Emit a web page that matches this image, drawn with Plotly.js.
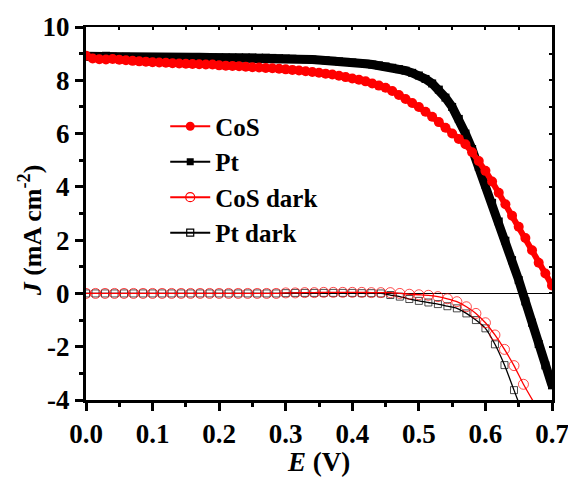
<!DOCTYPE html>
<html>
<head>
<meta charset="utf-8">
<script src="https://cdn.plot.ly/plotly-3.0.1.min.js"></script>
<style>html,body{margin:0;padding:0;background:#fff;}#chart{width:568px;height:477px;}</style>
</head>
<body>
<div id="chart"></div>
<script>
// Illuminated J-V sweep (V)
var E_light = [0.00,0.01,0.02,0.03,0.04,0.05,0.06,0.07,0.08,0.09,
  0.10,0.11,0.12,0.13,0.14,0.15,0.16,0.17,0.18,0.19,
  0.20,0.21,0.22,0.23,0.24,0.25,0.26,0.27,0.28,0.29,
  0.30,0.31,0.32,0.33,0.34,0.35,0.36,0.37,0.38,0.39,
  0.40,0.41,0.42,0.43,0.44,0.45,0.46,0.47,0.48,0.49,
  0.50,0.51,0.52,0.53,0.54,0.55,0.56,0.57,0.58,0.59,
  0.60,0.61,0.62,0.63,0.64,0.65,0.66,0.67,0.68,0.69,0.70];
// CoS (mA cm-2)
var J_CoS = [8.92,8.82,8.79,8.78,8.80,8.77,8.75,8.73,8.71,8.70,
  8.68,8.67,8.66,8.64,8.63,8.62,8.61,8.60,8.59,8.59,
  8.56,8.55,8.54,8.53,8.51,8.49,8.48,8.46,8.45,8.43,
  8.41,8.39,8.37,8.34,8.31,8.28,8.25,8.22,8.17,8.12,
  8.07,8.02,7.96,7.88,7.80,7.72,7.60,7.45,7.30,7.15,
  7.00,6.82,6.63,6.43,6.22,6.00,5.80,5.60,5.30,4.97,
  4.60,4.20,3.78,3.35,2.92,2.50,2.08,1.62,1.15,0.75,0.30];
// Pt (mA cm-2)
var J_Pt = [8.90,8.88,8.90,8.92,8.89,8.88,8.88,8.87,8.87,8.87,
  8.87,8.86,8.86,8.86,8.86,8.86,8.86,8.86,8.86,8.86,
  8.86,8.86,8.86,8.86,8.86,8.86,8.85,8.85,8.84,8.83,
  8.82,8.81,8.80,8.79,8.78,8.76,8.75,8.73,8.71,8.69,
  8.67,8.65,8.62,8.59,8.56,8.52,8.47,8.42,8.36,8.28,
  8.18,8.05,7.88,7.65,7.35,7.00,6.55,6.00,5.42,4.75,
  4.08,3.40,2.70,1.98,1.25,0.50,-0.30,-1.10,-1.90,-2.70,-3.45];
// Dark sweep (V)
var E_dark = [0.0000,0.0143,0.0286,0.0429,0.0571,0.0714,0.0857,0.1000,0.1143,0.1286,
  0.1429,0.1571,0.1714,0.1857,0.2000,0.2143,0.2286,0.2429,0.2571,0.2714,
  0.2857,0.3000,0.3143,0.3286,0.3429,0.3571,0.3714,0.3857,0.4000,0.4143,
  0.4286,0.4429,0.4571,0.4714,0.4857,0.5000,0.5143,0.5286,0.5429,0.5571,
  0.5714,0.5857,0.6000,0.6143,0.6286,0.6429,0.6571];
var J_CoS_dark = [0,0,0,0,0,0,0,0,0,0,
  0,0,0,0,0,0,0,0,0,0,
  0,0.02,0.02,0.03,0.03,0.04,0.04,0.04,0.04,0.04,
  0.03,0.03,0.03,0.00,-0.03,-0.05,-0.07,-0.12,-0.20,-0.31,
  -0.50,-0.75,-1.10,-1.56,-2.10,-2.71,-3.41];
var J_Pt_dark = [0,0,0,0,0,0,0,0,0,0,
  0,0,0,0,0,0,0,0,0,0,
  0,0.01,0.02,0.02,0.02,0.02,0.02,0.02,0.02,0.01,
  0.01,0.00,-0.06,-0.12,-0.21,-0.28,-0.34,-0.40,-0.48,-0.56,
  -0.75,-1.00,-1.31,-1.91,-2.69,-3.63];
// where the fitted dark lines leave the bottom of the frame
var E_CoS_dark_end = 0.673, J_CoS_dark_end = -4.1;
var E_Pt_dark_end = 0.650, J_Pt_dark_end = -4.1;

var seriesNames = ['CoS','Pt','CoS dark','Pt dark'];
var xTickVals = [0,0.1,0.2,0.3,0.4,0.5,0.6,0.7];
var xTickText = ['0.0','0.1','0.2','0.3','0.4','0.5','0.6','0.7'];
var yTickVals = [-4,-2,0,2,4,6,8,10];
var yTickText = ['-4','-2','0','2','4','6','8','10'];

var FONT = 'Liberation Serif, Times New Roman, serif';
var RED = '#ff0000', BLK = '#000000';

function sizes(n, s){ var a=[]; for(var i=0;i<n;i++) a.push(s); a.push(0); return a; }

var traces = [
  // dark curves
  {x: E_dark.slice(0,J_Pt_dark.length).concat([E_Pt_dark_end]), y: J_Pt_dark.concat([J_Pt_dark_end]),
   mode:'lines+markers', line:{color:BLK,width:1.3,shape:'spline',smoothing:0.6},
   marker:{symbol:'square-open',size:sizes(J_Pt_dark.length,7),color:BLK,line:{width:1,color:BLK}},
   showlegend:false},
  {x: E_dark.concat([E_CoS_dark_end]), y: J_CoS_dark.concat([J_CoS_dark_end]),
   mode:'lines+markers', line:{color:RED,width:1.3,shape:'spline',smoothing:0.6},
   marker:{symbol:'circle-open',size:sizes(J_CoS_dark.length,10),color:RED,line:{width:1,color:RED}},
   showlegend:false},
  // illuminated curves
  {x:E_light, y:J_Pt, mode:'lines+markers', line:{color:BLK,width:9},
   marker:{symbol:'square',size:8,color:BLK}, showlegend:false},
  {x:E_light, y:J_CoS, mode:'lines+markers', line:{color:RED,width:6},
   marker:{symbol:'circle',size:10,color:RED}, showlegend:false},
  // legend entries
  {x:[null], y:[null], name:seriesNames[0], mode:'lines+markers', line:{color:RED,width:2},
   marker:{symbol:'circle',size:9,color:RED}},
  {x:[null], y:[null], name:seriesNames[1], mode:'lines+markers', line:{color:BLK,width:2},
   marker:{symbol:'square',size:7,color:BLK}},
  {x:[null], y:[null], name:seriesNames[2], mode:'lines+markers', line:{color:RED,width:2},
   marker:{symbol:'circle-open',size:9,color:RED,line:{width:1.2,color:RED}}},
  {x:[null], y:[null], name:seriesNames[3], mode:'lines+markers', line:{color:BLK,width:2},
   marker:{symbol:'square-open',size:7,color:BLK,line:{width:1.2,color:BLK}}},
  // frame axes (top/right)
  {x:[null], y:[null], xaxis:'x2', yaxis:'y2', showlegend:false, hoverinfo:'skip'}
];

var tickFont = {family:FONT, size:27, color:BLK, weight:'bold'};

var layout = {
  width:568, height:477,
  margin:{l:86, r:16, t:27, b:77, pad:0},
  paper_bgcolor:'#ffffff', plot_bgcolor:'#ffffff',
  font:{family:FONT, color:BLK},
  showlegend:true,
  legend:{x:0.17, y:0.795, xanchor:'left', yanchor:'top', bgcolor:'rgba(0,0,0,0)',
    font:{family:FONT, size:25, color:BLK, weight:'bold'}, tracegroupgap:0, itemwidth:40},
  xaxis:{range:[0,0.7], tickvals:xTickVals, ticktext:xTickText, ticks:'outside', ticklen:8, tickwidth:3,
    tickcolor:BLK, showline:true, linewidth:3, linecolor:BLK, showgrid:false, zeroline:false,
    tickfont:tickFont, ticklabeloverflow:'allow',
    minor:{dtick:0.05, tick0:0, ticks:'outside', ticklen:4, tickwidth:3, tickcolor:BLK, showgrid:false},
    title:{text:'<i>E</i> (V)', font:{family:FONT, size:27, color:BLK, weight:'bold'}, standoff:6}},
  yaxis:{range:[-4,10], tickvals:yTickVals, ticktext:yTickText, ticks:'outside', ticklen:8, tickwidth:3,
    tickcolor:BLK, showline:true, linewidth:3, linecolor:BLK, showgrid:false,
    zeroline:true, zerolinecolor:BLK, zerolinewidth:1.5,
    tickfont:tickFont, ticklabeloverflow:'allow'},
  xaxis2:{overlaying:'x', side:'top', range:[0,0.7], dtick:0.05, tick0:0, ticks:'inside', ticklen:3, tickwidth:2,
    tickcolor:BLK, showticklabels:false, showline:true, linewidth:2.5, linecolor:BLK, showgrid:false, zeroline:false},
  yaxis2:{overlaying:'y', side:'right', range:[-4,10], dtick:1, tick0:0, ticks:'inside', ticklen:3, tickwidth:2,
    tickcolor:BLK, showticklabels:false, showline:true, linewidth:3, linecolor:BLK, showgrid:false, zeroline:false},
  annotations:[{xref:'paper', yref:'paper', x:-0.12, y:0.455, xanchor:'center', yanchor:'middle',
    textangle:-90, showarrow:false, text:'<i>J</i> (mA cm<sup>-2</sup>)',
    font:{family:FONT, size:26, color:BLK, weight:'bold'}}]
};
layout.yaxis.minor = {dtick:1, tick0:0, ticks:'outside', ticklen:4, tickwidth:3, tickcolor:BLK, showgrid:false};

Plotly.newPlot('chart', traces, layout, {displayModeBar:false, staticPlot:true});
</script>
</body>
</html>
